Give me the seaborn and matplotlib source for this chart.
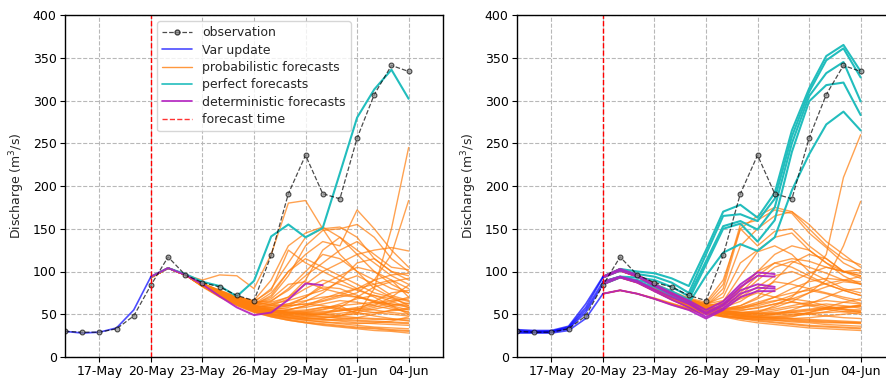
import matplotlib
matplotlib.use("Agg")
import matplotlib.pyplot as plt
from matplotlib.lines import Line2D
import matplotlib.dates as mdates
import pandas as pd
import seaborn as sns

# ---- dates ----
obs_dates = pd.date_range("2019-05-15", "2019-06-04", freq="D")
upd_dates = pd.date_range("2019-05-15", "2019-05-20", freq="D")
det_dates = pd.date_range("2019-05-20", "2019-05-30", freq="D")
fc_dates = pd.date_range("2019-05-20", "2019-06-04", freq="D")
forecast_time = pd.Timestamp("2019-05-20")
tick_dates = pd.date_range("2019-05-17", "2019-06-04", freq="3D")

observation = [30, 29, 29, 33, 48, 84, 117, 96, 87, 82, 72, 66, 119, 191, 236,
               191, 185, 256, 307, 341, 334]

# ---- left panel ----
var_left = [[30, 28, 29, 34, 55, 94]]
det_left = [[94, 104, 96, 85, 71, 58, 49, 52, 67, 86, 84]]
perf_left = [[94, 104, 97, 88, 83, 71, 89, 141, 155, 140, 151, 215, 280, 313, 336, 302]]
prob_left = [
    [93, 104, 96, 84, 72, 62, 55, 50, 46, 43, 41, 39, 37, 35, 34, 33],
    [93, 104, 96, 82, 70, 60, 52, 47, 43, 40, 37, 35, 33, 31, 30, 28],
    [93, 104, 96, 85, 74, 65, 58, 53, 49, 46, 44, 42, 40, 39, 38, 37],
    [93, 104, 96, 86, 76, 68, 61, 56, 52, 49, 47, 45, 43, 42, 41, 40],
    [93, 104, 96, 83, 71, 61, 53, 48, 44, 41, 39, 37, 35, 34, 32, 31],
    [93, 104, 96, 84, 73, 64, 57, 54, 52, 51, 50, 48, 46, 45, 44, 43],
    [93, 104, 96, 85, 75, 67, 60, 58, 60, 62, 60, 57, 55, 52, 50, 48],
    [93, 104, 96, 90, 96, 95, 80, 120, 180, 183, 150, 120, 100, 80, 70, 60],
    [93, 104, 96, 86, 78, 70, 66, 90, 130, 145, 152, 140, 125, 110, 95, 85],
    [93, 104, 96, 85, 76, 68, 64, 80, 110, 140, 150, 152, 140, 115, 100, 90],
    [93, 104, 96, 84, 74, 66, 62, 70, 95, 130, 148, 150, 155, 140, 115, 100],
    [93, 104, 96, 85, 76, 68, 62, 75, 100, 120, 135, 130, 172, 150, 125, 105],
    [93, 104, 96, 84, 74, 65, 58, 62, 70, 85, 100, 110, 120, 125, 128, 124],
    [93, 104, 96, 83, 72, 63, 56, 52, 50, 52, 55, 60, 50, 80, 150, 245],
    [93, 104, 96, 84, 73, 64, 57, 54, 55, 60, 65, 70, 75, 90, 120, 183],
    [93, 104, 96, 86, 77, 70, 65, 78, 125, 110, 100, 90, 80, 70, 60, 55],
    [93, 104, 96, 85, 75, 67, 61, 72, 100, 115, 105, 95, 85, 75, 70, 65],
    [93, 104, 96, 84, 74, 66, 60, 65, 80, 100, 120, 115, 100, 90, 80, 75],
    [93, 104, 96, 85, 75, 66, 60, 58, 62, 70, 85, 95, 105, 100, 90, 80],
    [93, 104, 96, 84, 73, 64, 57, 55, 58, 65, 75, 90, 110, 115, 100, 95],
    [93, 104, 96, 83, 72, 62, 55, 52, 55, 60, 68, 75, 80, 85, 90, 70],
    [93, 104, 96, 84, 74, 65, 58, 60, 68, 80, 90, 85, 78, 72, 65, 58],
    [93, 104, 96, 85, 76, 68, 62, 68, 85, 88, 80, 75, 70, 65, 60, 50],
    [93, 104, 96, 83, 71, 62, 55, 50, 48, 47, 50, 58, 70, 82, 88, 92],
    [93, 104, 96, 84, 73, 63, 56, 51, 48, 46, 45, 48, 55, 65, 75, 78],
    [93, 104, 96, 85, 75, 66, 59, 55, 53, 53, 56, 62, 68, 72, 68, 62],
    [93, 104, 96, 84, 74, 65, 58, 56, 60, 70, 82, 80, 72, 64, 58, 52],
    [93, 104, 96, 86, 77, 69, 63, 62, 66, 72, 78, 88, 95, 85, 72, 66],
    [93, 104, 96, 84, 73, 63, 56, 53, 52, 54, 58, 56, 52, 48, 45, 42],
    [93, 104, 96, 85, 75, 66, 60, 57, 56, 58, 62, 66, 64, 60, 56, 53],
    [93, 104, 96, 83, 72, 62, 54, 49, 46, 44, 43, 44, 46, 50, 55, 57],
    [93, 104, 96, 84, 74, 65, 58, 55, 54, 55, 58, 60, 62, 64, 62, 58],
    [93, 104, 96, 86, 78, 71, 65, 64, 70, 90, 125, 140, 120, 100, 85, 75],
    [93, 104, 96, 85, 76, 68, 63, 66, 78, 95, 110, 125, 135, 120, 105, 102],
    [93, 104, 96, 83, 71, 61, 53, 48, 45, 43, 41, 40, 39, 40, 42, 47],
    [93, 104, 96, 84, 72, 63, 57, 53, 51, 50, 50, 51, 54, 58, 64, 70],
    [93, 104, 96, 83, 72, 62, 55, 50, 47, 45, 44, 43, 42, 41, 40, 39],
    [93, 104, 96, 84, 73, 64, 57, 53, 50, 48, 47, 46, 45, 44, 44, 45],
    [93, 104, 96, 85, 75, 66, 59, 55, 52, 50, 49, 49, 50, 52, 54, 56],
    [93, 104, 96, 84, 74, 65, 58, 54, 52, 52, 53, 55, 58, 62, 66, 68],
    [93, 104, 96, 83, 71, 61, 53, 47, 43, 40, 38, 36, 34, 33, 31, 30],
    [93, 104, 96, 85, 76, 68, 62, 60, 62, 66, 70, 72, 70, 66, 62, 60],
    [93, 104, 96, 84, 72, 62, 54, 49, 46, 45, 46, 48, 52, 56, 60, 63],
    [93, 104, 96, 86, 77, 70, 64, 61, 60, 62, 66, 72, 80, 90, 96, 98],
    [93, 104, 96, 84, 73, 63, 55, 51, 49, 49, 51, 54, 57, 55, 52, 50],
    [93, 104, 96, 85, 74, 64, 57, 53, 51, 51, 52, 54, 56, 60, 70, 84],
]

# ---- right panel ----
var_right = [
    [32, 31, 31, 36, 62, 94],
    [31, 30, 30, 35, 58, 93],
    [30, 29, 30, 34, 55, 88],
    [29, 29, 29, 33, 52, 85],
    [28, 28, 28, 31, 45, 74],
]
det_right = [
    [94, 103, 96, 85, 75, 66, 55, 65, 85, 99, 97],
    [93, 101, 94, 83, 73, 64, 52, 62, 82, 95, 94],
    [88, 94, 89, 79, 70, 62, 50, 60, 78, 85, 82],
    [85, 93, 87, 77, 67, 58, 47, 57, 74, 81, 80],
    [74, 78, 74, 68, 61, 55, 45, 55, 70, 77, 77],
]
perf_right = [
    [94, 103, 100, 98, 92, 83, 125, 170, 178, 163, 192, 265, 314, 352, 365, 334],
    [93, 101, 97, 94, 87, 75, 120, 165, 167, 159, 185, 258, 310, 347, 361, 327],
    [88, 94, 93, 90, 82, 71, 112, 153, 159, 149, 175, 250, 305, 332, 345, 299],
    [85, 93, 90, 85, 77, 67, 108, 150, 156, 135, 160, 240, 299, 318, 321, 283],
    [88, 94, 88, 82, 72, 63, 95, 122, 132, 124, 140, 195, 237, 272, 287, 265],
]
prob_right = [
    [94, 103, 96, 84, 73, 63, 55, 49, 45, 42, 40, 38, 36, 35, 34, 33],
    [93, 101, 94, 82, 70, 60, 52, 47, 43, 40, 38, 36, 34, 33, 32, 31],
    [88, 94, 88, 78, 68, 59, 52, 50, 48, 47, 46, 45, 44, 43, 42, 41],
    [85, 93, 87, 77, 67, 58, 51, 48, 47, 48, 50, 52, 50, 48, 46, 45],
    [74, 78, 74, 68, 61, 55, 50, 47, 45, 44, 43, 41, 40, 38, 37, 36],
    [94, 103, 96, 85, 75, 66, 60, 80, 150, 165, 175, 170, 150, 130, 115, 108],
    [93, 101, 95, 85, 76, 68, 62, 85, 155, 160, 172, 168, 145, 128, 110, 100],
    [88, 94, 89, 80, 72, 65, 60, 75, 130, 150, 165, 170, 155, 135, 120, 105],
    [94, 103, 96, 86, 77, 69, 64, 90, 150, 130, 147, 150, 130, 115, 100, 95],
    [93, 101, 94, 84, 75, 67, 62, 70, 110, 125, 140, 145, 125, 110, 95, 85],
    [85, 93, 88, 79, 71, 64, 58, 65, 95, 123, 130, 120, 100, 90, 80, 75],
    [94, 103, 96, 84, 74, 65, 58, 56, 60, 70, 90, 110, 120, 115, 100, 95],
    [88, 94, 88, 78, 69, 61, 55, 52, 51, 52, 60, 70, 90, 120, 210, 260],
    [93, 101, 94, 83, 72, 63, 56, 53, 52, 54, 58, 65, 75, 90, 130, 182],
    [74, 78, 74, 69, 63, 57, 53, 60, 80, 100, 110, 105, 95, 85, 78, 72],
    [94, 103, 96, 85, 75, 67, 61, 62, 72, 90, 105, 112, 105, 98, 90, 88],
    [93, 101, 94, 83, 73, 64, 58, 56, 60, 68, 78, 88, 98, 105, 100, 92],
    [85, 93, 87, 78, 69, 61, 56, 54, 56, 62, 70, 80, 88, 92, 90, 85],
    [88, 94, 88, 79, 70, 62, 57, 58, 65, 78, 88, 85, 80, 75, 70, 66],
    [94, 103, 96, 84, 73, 64, 57, 52, 49, 48, 50, 55, 62, 70, 78, 80],
    [93, 101, 94, 82, 71, 62, 55, 51, 48, 46, 45, 47, 52, 58, 64, 68],
    [85, 93, 87, 77, 68, 60, 54, 51, 50, 51, 54, 58, 60, 62, 60, 57],
    [74, 78, 74, 68, 62, 56, 51, 48, 46, 46, 47, 49, 52, 56, 58, 60],
    [94, 103, 96, 85, 75, 66, 60, 62, 70, 82, 95, 100, 92, 85, 78, 72],
    [93, 101, 94, 84, 74, 65, 59, 60, 68, 75, 70, 65, 60, 56, 53, 50],
    [88, 94, 88, 79, 70, 62, 57, 55, 58, 64, 70, 75, 78, 74, 68, 63],
    [85, 93, 87, 78, 69, 62, 57, 56, 58, 62, 66, 68, 65, 60, 56, 53],
    [94, 103, 96, 84, 74, 65, 58, 54, 52, 51, 52, 54, 56, 58, 56, 55],
    [93, 101, 94, 83, 72, 63, 56, 52, 49, 47, 46, 45, 46, 48, 50, 52],
    [88, 94, 88, 78, 68, 60, 53, 49, 46, 44, 43, 42, 41, 40, 40, 39],
    [74, 78, 74, 68, 62, 56, 51, 48, 46, 45, 44, 43, 42, 41, 40, 40],
    [94, 103, 96, 85, 76, 68, 62, 66, 80, 100, 120, 130, 125, 110, 100, 98],
    [85, 93, 88, 80, 72, 65, 60, 63, 75, 95, 110, 115, 112, 105, 100, 102],
    [93, 101, 94, 84, 74, 65, 58, 55, 55, 57, 62, 68, 75, 82, 88, 86],
    [88, 94, 88, 78, 69, 61, 55, 52, 50, 50, 51, 53, 55, 57, 59, 60],
    [94, 103, 96, 84, 73, 63, 56, 51, 48, 46, 45, 44, 43, 42, 41, 40],
    [93, 101, 94, 83, 72, 63, 56, 52, 50, 49, 49, 50, 51, 52, 53, 54],
    [88, 94, 88, 79, 70, 62, 56, 53, 52, 53, 56, 60, 64, 66, 64, 62],
    [85, 93, 87, 77, 67, 59, 52, 48, 45, 43, 41, 39, 37, 36, 35, 34],
    [94, 103, 96, 85, 75, 66, 59, 56, 57, 60, 65, 72, 80, 86, 90, 94],
    [93, 101, 94, 84, 74, 65, 58, 54, 52, 51, 51, 52, 54, 56, 58, 59],
    [74, 78, 74, 68, 62, 57, 53, 52, 54, 58, 62, 64, 62, 58, 55, 52],
    [88, 94, 88, 78, 69, 61, 55, 51, 48, 47, 47, 48, 50, 53, 57, 61],
]

C_VAR = "blue"
C_PROB = "#ff7f0e"
C_PERF = "#22bdbd"
C_DET = "#b21fbf"


def long_df(members, dates):
    rows = []
    for m, vals in enumerate(members):
        for d, v in zip(dates, vals):
            rows.append((m, d, v))
    return pd.DataFrame(rows, columns=["member", "date", "discharge"])


def draw(ax, members, dates, color, lw, alpha):
    sns.lineplot(data=long_df(members, dates), x="date", y="discharge",
                 units="member", estimator=None, color=color, lw=lw,
                 alpha=alpha, ax=ax, legend=False)


sns.set_style("ticks")
plt.rcParams["font.family"] = ["DejaVu Sans"]

fig = plt.figure(figsize=(8.86, 3.78), dpi=100)
ax1 = fig.add_axes([65 / 886, 21 / 378, 378 / 886, 342 / 378])
ax2 = fig.add_axes([517 / 886, 21 / 378, 378 / 886, 342 / 378])

panels = [
    (ax1, var_left, prob_left, perf_left, det_left),
    (ax2, var_right, prob_right, perf_right, det_right),
]

obs_df = pd.DataFrame({"date": obs_dates, "discharge": observation})

for ax, var, prob, perf, det in panels:
    ax.set_axisbelow(True)
    ax.grid(True, ls="--", color="0.72", lw=0.8)
    draw(ax, prob, fc_dates, C_PROB, 1.0, 0.72)
    draw(ax, perf, fc_dates, C_PERF, 1.5, 1.0)
    draw(ax, det, det_dates, C_DET, 1.4, 0.9)
    draw(ax, var, upd_dates, C_VAR, 1.2, 0.7)
    sns.lineplot(data=obs_df, x="date", y="discharge", ax=ax, color="k",
                 ls="--", lw=0.9, alpha=0.7, marker="o", ms=3.5, mfc="0.55",
                 mec="k", legend=False)
    ax.axvline(forecast_time, color="red", ls="--", lw=1.0)

    ax.set_xlim(pd.Timestamp("2019-05-15"), pd.Timestamp("2019-06-06"))
    ax.set_ylim(0, 400)
    ax.set_yticks(range(0, 401, 50))
    ax.set_xticks(tick_dates)
    ax.xaxis.set_major_formatter(mdates.DateFormatter("%d-%b"))
    ax.set_xlabel("")
    ax.set_ylabel("Discharge (m$^3$/s)", fontsize=9)
    ax.tick_params(labelsize=9, colors="k", pad=2.5, length=3.5)
    for s in ax.spines.values():
        s.set_color("k")
        s.set_linewidth(1.0)

handles = [
    Line2D([], [], color="k", ls="--", lw=0.9, alpha=0.7, marker="o", ms=3.5,
           mfc="0.55", mec="k"),
    Line2D([], [], color=C_VAR, lw=1.2, alpha=0.7),
    Line2D([], [], color=C_PROB, lw=1.0, alpha=0.8),
    Line2D([], [], color=C_PERF, lw=1.2),
    Line2D([], [], color=C_DET, lw=1.2),
    Line2D([], [], color="red", ls="--", lw=1.0, alpha=0.8),
]
labels = ["observation", "Var update", "probabilistic forecasts",
          "perfect forecasts", "deterministic forecasts", "forecast time"]
ax1.legend(handles, labels, loc="upper center", fontsize=9, framealpha=0.8,
           borderaxespad=0.5, handlelength=2.4, labelspacing=0.35)

fig.savefig("out.png", dpi=100)
